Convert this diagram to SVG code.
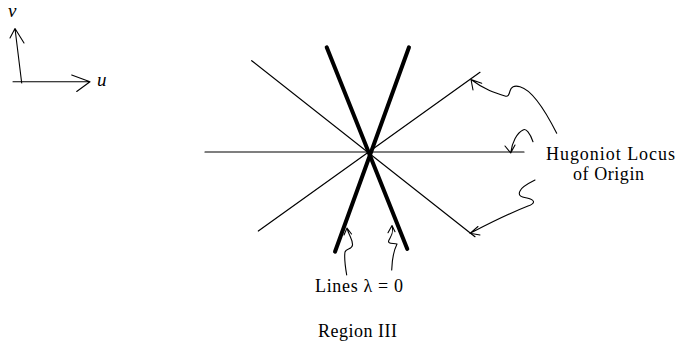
<svg xmlns="http://www.w3.org/2000/svg" width="677" height="347" viewBox="0 0 677 347">
<style>
.t{font-family:"Liberation Serif","DejaVu Serif",serif;font-size:18px;fill:#000}
.ti{font-family:"Liberation Serif","DejaVu Serif",serif;font-size:19px;font-style:italic;fill:#000}
.thin{stroke:#000;stroke-width:1.2;fill:none;stroke-linecap:round}
.thick{stroke:#000;stroke-width:4;fill:none;stroke-linecap:round}
.hand{stroke:#000;stroke-width:1.1;fill:none;stroke-linecap:round;stroke-linejoin:round}
</style>
<rect width="677" height="347" fill="#fff"/>
<g id="axes">
<path class="hand" d="M21.7 83 L15 28.5 M10 38 L15 28.5 L24 43"/>
<path class="hand" d="M13 81.7 L90 81.7 M71.7 75 L90 81.7 L76.7 91.5"/>
<text class="ti" x="8" y="17">v</text>
<text class="ti" x="97" y="86">u</text>
</g>
<g id="lines">
<line class="thin" x1="205" y1="152" x2="524" y2="152"/>
<line class="thin" x1="251.7" y1="60.7" x2="475" y2="236.7"/>
<line class="thin" x1="258.3" y1="231" x2="480" y2="72.3"/>
<line class="thick" x1="326.7" y1="47.3" x2="407.3" y2="249"/>
<line class="thick" x1="409" y1="47.3" x2="335" y2="251.7"/>
</g>
<g id="connectors">
<path class="hand" d="M556.7 133.3 C545 110 532 90 520 86.7 C514 85 511 87 510 91 C509 95 508 97 505 96 C495 93 485 90 471 79.5 M481.7 83.3 L471 79.5 L473 90"/>
<path class="hand" d="M533 141.7 C530 133 526 128 523 130 C517 133 512 142 510.7 153 M505 146 L510.7 153 L515 145"/>
<path class="hand" d="M535 180 C527 184 521 188 520 191 C518 195 520 197 527 198 C535 200 536 203 528 206 C505 215 488 224 470 233.3 M478 226.5 L470 233.3 L480 235"/>
<path class="hand" d="M346.7 275 C345 265 344 258 345 252 C346 248 352 250 352.5 245 C353 240 349 236 347 228 M344 235 L347 228 L351.5 234"/>
<path class="hand" d="M391.7 270 C392 260 394 250 397 244 C392 243 387 244 389 240 C391 236 394 233 392 225.5 M388 232.7 L392 225.5 L395 231.7"/>
</g>
<g id="labels">
<text class="t" x="546" y="160" textLength="129" lengthAdjust="spacing">Hugoniot Locus</text>
<text class="t" x="573" y="180" textLength="71" lengthAdjust="spacing">of Origin</text>
<text class="t" x="315" y="292" textLength="88" lengthAdjust="spacing">Lines λ = 0</text>
<text class="t" x="318" y="337" textLength="79" lengthAdjust="spacing">Region III</text>
</g>
</svg>
